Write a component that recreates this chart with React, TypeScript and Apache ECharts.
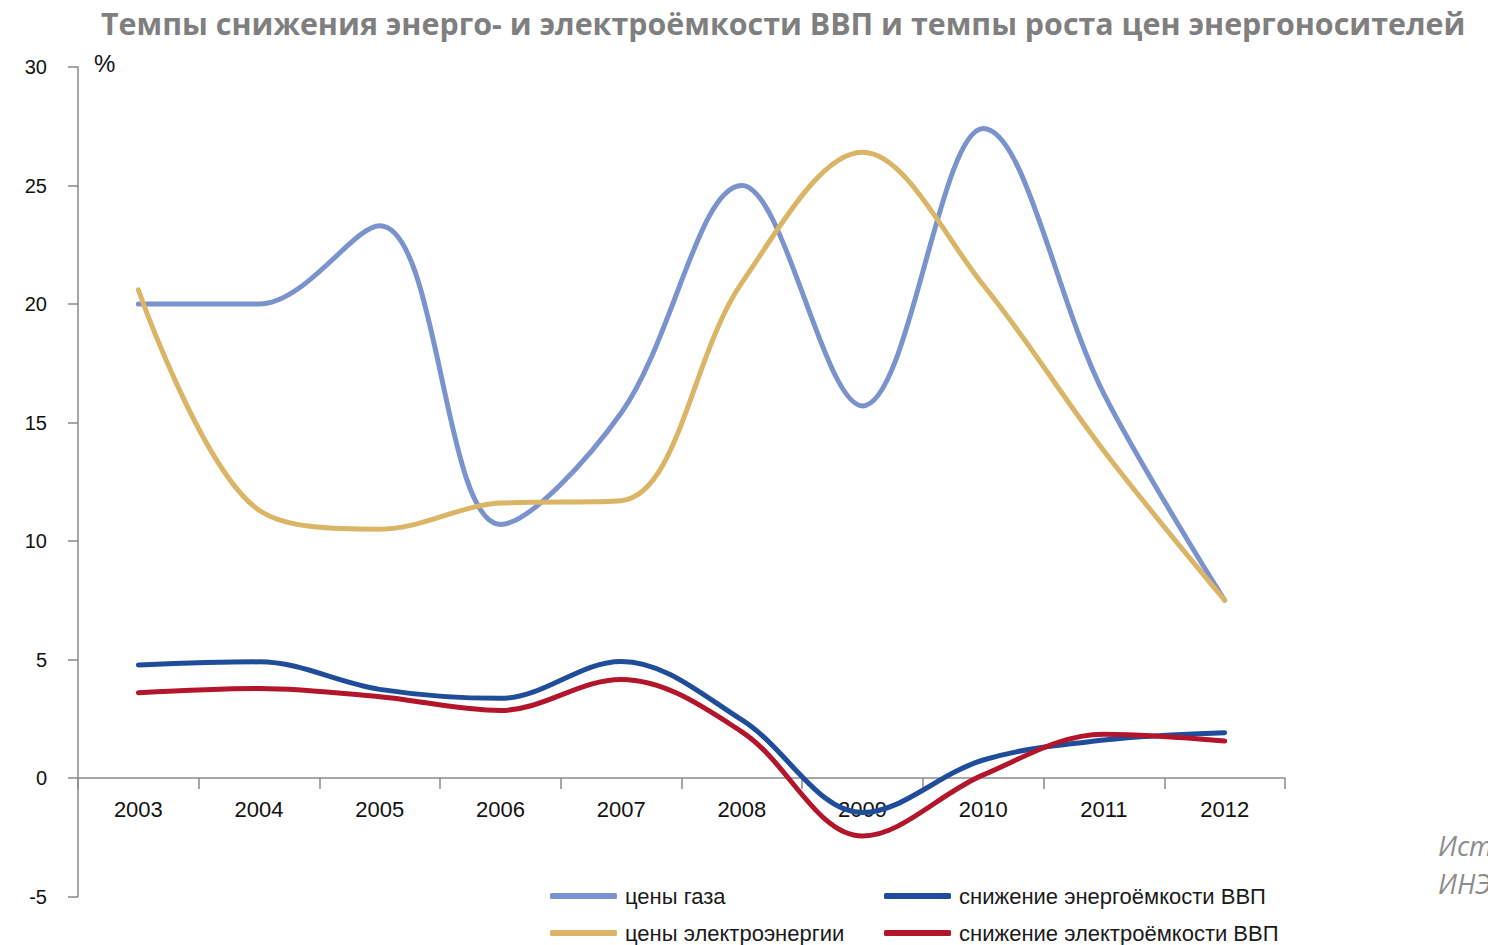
import React, { useEffect, useRef } from "react";
import * as echarts from "echarts";

const years = ["2003", "2004", "2005", "2006", "2007", "2008", "2009", "2010", "2011", "2012"];
const gasPrices = [20.0, 20.0, 23.3, 10.7, 15.4, 25.0, 15.7, 27.4, 16.2, 7.5];
const electricityPrices = [20.6, 11.3, 10.5, 11.6, 11.7, 20.9, 26.4, 20.8, 13.8, 7.5];
const energyIntensityDecline = [4.77, 4.9, 3.74, 3.36, 4.92, 2.45, -1.46, 0.76, 1.6, 1.91];
const electroIntensityDecline = [3.6, 3.78, 3.43, 2.85, 4.16, 1.95, -2.45, 0.13, 1.85, 1.56];

const seriesNames = [
  "цены газа",
  "цены электроэнергии",
  "снижение энергоёмкости ВВП",
  "снижение электроёмкости ВВП",
];
const seriesColors = ["#7b93cd", "#d9b565", "#1f4d9a", "#b3152a"];

const titleText = "Темпы снижения энерго- и электроёмкости ВВП и темпы роста цен энергоносителей";
const sourceLines = ["Источник:", "ИНЭИ РАН"];

export default function App() {
  const ref = useRef<HTMLDivElement>(null);
  useEffect(() => {
    if (!ref.current) return;
    const chart = echarts.init(ref.current, null, { renderer: "svg" });
    const data = [gasPrices, electricityPrices, energyIntensityDecline, electroIntensityDecline];
    const legendPos = [
      { left: 550, top: 885 },
      { left: 550, top: 922 },
      { left: 884, top: 885 },
      { left: 884, top: 922 },
    ];
    const axisFont = "'Liberation Sans', Arial, sans-serif";
    chart.setOption({
      animation: false,
      backgroundColor: "#ffffff",
      title: {
        text: titleText,
        left: 101,
        top: 8,
        padding: 0,
        textStyle: {
          fontFamily: "'Open Sans', 'Noto Sans', sans-serif",
          fontWeight: "bold",
          fontSize: 30.4,
          color: "#7f7f7f",
        },
      },
      legend: seriesNames.map((n, i) => ({
        data: [n],
        left: legendPos[i].left,
        top: legendPos[i].top,
        padding: 0,
        icon: "roundRect",
        itemWidth: 67,
        itemHeight: 6,
        textStyle: { fontFamily: axisFont, fontSize: 22, color: "#1a1a1a", padding: [0, 0, 0, 3] },
        selectedMode: false,
      })),
      grid: { left: 78, right: 203, top: 67, bottom: 48.5, containLabel: false },
      xAxis: {
        type: "category",
        data: years,
        boundaryGap: true,
        offset: -118.5,
        axisLine: { onZero: false, lineStyle: { color: "#8a8a8a", width: 1.5 } },
        axisTick: { show: true, length: 11, lineStyle: { color: "#8a8a8a", width: 1.5 } },
        axisLabel: { margin: 20, fontFamily: axisFont, fontSize: 22, color: "#111" },
        splitLine: { show: false },
      },
      yAxis: {
        type: "value",
        min: -5,
        max: 30,
        interval: 5,
        axisLine: { show: true, lineStyle: { color: "#8a8a8a", width: 1.5 } },
        axisTick: { show: true, length: 10, lineStyle: { color: "#8a8a8a", width: 1.5 } },
        axisLabel: { margin: 31, fontFamily: axisFont, fontSize: 20, color: "#111" },
        splitLine: { show: false },
      },
      graphic: [
        {
          type: "text",
          left: 94,
          top: 51,
          style: { text: "%", fontFamily: axisFont, fontSize: 24, fill: "#111" },
        },
        {
          type: "text",
          left: 1438,
          top: 826,
          style: {
            text: sourceLines.join("\n"),
            fontFamily: "'Open Sans', sans-serif",
            fontStyle: "italic",
            fontSize: 27,
            lineHeight: 38,
            fill: "#8c8c8c",
          },
        },
      ],
      series: seriesNames.map((n, i) => ({
        name: n,
        type: "line",
        data: data[i],
        smooth: 0.35,
        showSymbol: false,
        symbol: "none",
        color: seriesColors[i],
        lineStyle: { width: 5, color: seriesColors[i], cap: "round" },
        itemStyle: { color: seriesColors[i] },
      })),
    });
    return () => chart.dispose();
  }, []);
  return (
    <div
      ref={ref}
      style={{ position: "fixed", left: 0, top: 0, width: 1488, height: 945, background: "#fff" }}
    />
  );
}
